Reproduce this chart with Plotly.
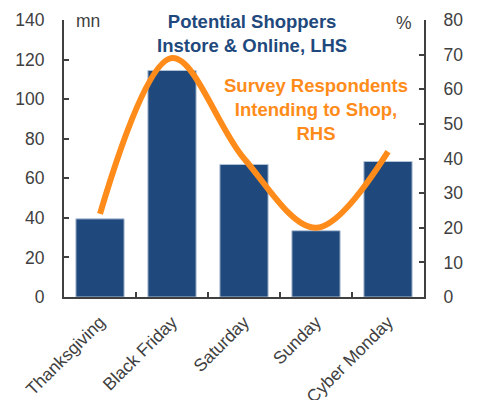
import plotly.graph_objects as go

# Holiday-weekend shopping days
days = ["Thanksgiving", "Black Friday", "Saturday", "Sunday", "Cyber Monday"]
# Potential shoppers, in-store and online (millions, left axis)
shoppers_mn = [39.5, 114.5, 67, 33.5, 68.5]
# Share of survey respondents intending to shop (%, right axis)
intending_pct = [24, 69, 40, 20, 42]

left_ticks = [0, 20, 40, 60, 80, 100, 120, 140]
right_ticks = [0, 10, 20, 30, 40, 50, 60, 70, 80]

NAVY = "#1F497D"
ORANGE = "#FF8C1A"
AXIS = "#404040"
FONT = "Liberation Sans, Arial, sans-serif"

fig = go.Figure()
fig.add_trace(go.Bar(
    x=days, y=shoppers_mn, width=0.67,
    marker=dict(color=NAVY, line=dict(color="#B4C4D8", width=1)),
    yaxis="y",
))
fig.add_trace(go.Scatter(
    x=days, y=intending_pct, mode="lines",
    line=dict(color=ORANGE, width=6, shape="spline", smoothing=1.0),
    yaxis="y2",
))

tick_font = dict(family=FONT, size=17.5, color=AXIS)

fig.update_layout(
    width=478, height=400,
    margin=dict(l=64, r=54, t=20, b=103),
    paper_bgcolor="white", plot_bgcolor="white",
    showlegend=False,
    font=dict(family=FONT),
    xaxis=dict(
        type="category", showgrid=False, automargin=False,
        showline=True, linecolor=AXIS, linewidth=2,
        ticks="inside", tickson="boundaries", ticklen=5, tickcolor=AXIS, tickwidth=1.5,
        tickangle=-45, tickfont=tick_font, ticklabelstandoff=6,
    ),
    yaxis=dict(
        range=[0, 140], tickvals=left_ticks, showgrid=False, zeroline=False,
        automargin=False,
        showline=True, linecolor=AXIS, linewidth=2,
        ticks="inside", ticklen=5, tickcolor=AXIS, tickwidth=1.5,
        tickfont=tick_font, ticklabelstandoff=14,
    ),
    yaxis2=dict(
        range=[0, 80], tickvals=right_ticks, overlaying="y", side="right",
        showgrid=False, zeroline=False, automargin=False,
        showline=True, linecolor=AXIS, linewidth=2,
        ticks="inside", ticklen=5, tickcolor=AXIS, tickwidth=1.5,
        tickfont=tick_font, ticklabelstandoff=14,
    ),
)

# place text labels in pixel terms relative to the plot area
plot_l, plot_r, plot_t, plot_b = 64, 424, 20, 297
pw, ph = plot_r - plot_l, plot_b - plot_t


def px(x):
    return (x - plot_l) / pw


def py(y):
    return (plot_b - y) / ph


fig.update_layout(annotations=[
    dict(text="mn", x=px(74), y=py(21), xref="paper", yref="paper",
         xanchor="left", yanchor="middle", showarrow=False,
         font=dict(size=17.5, color=AXIS, family=FONT)),
    dict(text="%", x=px(414), y=py(23), xref="paper", yref="paper",
         xanchor="right", yanchor="middle", showarrow=False,
         font=dict(size=17.5, color=AXIS, family=FONT)),
    dict(text="<b>Potential Shoppers<br>Instore & Online, LHS</b>",
         x=px(252), y=py(33), xref="paper", yref="paper",
         xanchor="center", yanchor="middle", showarrow=False,
         font=dict(size=18.5, color=NAVY, family=FONT)),
    dict(text="<b>Survey Respondents<br>Intending to Shop,<br>RHS</b>",
         x=px(316), y=py(110), xref="paper", yref="paper",
         xanchor="center", yanchor="middle", showarrow=False,
         font=dict(size=18.5, color=ORANGE, family=FONT)),
])

fig.write_html("out.html")
